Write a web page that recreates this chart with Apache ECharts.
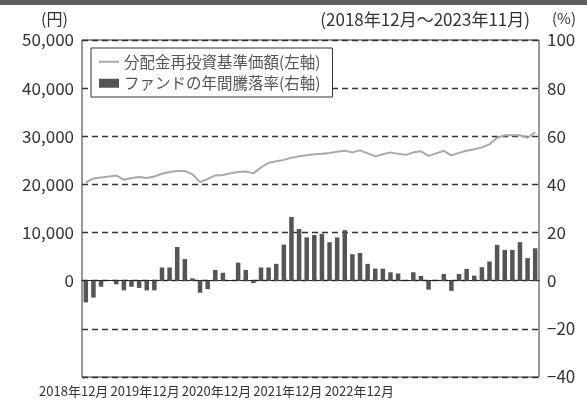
<!DOCTYPE html>
<html>
<head>
<meta charset="utf-8">
<script src="https://cdn.jsdelivr.net/npm/echarts@6/dist/echarts.min.js"></script>
<style>
  html, body { margin: 0; padding: 0; background: #fff; }
  #chart { width: 587px; height: 403px; }
</style>
</head>
<body>
<div id="chart"></div>
<script>
// 2018年12月 ～ 2023年11月 (月次)
var months = [];
for (var y = 2018, m = 12, k = 0; k < 60; k++) {
  months.push(y + '年' + m + '月');
  m++; if (m > 12) { m = 1; y++; }
}

// 分配金再投資基準価額 (円, 左軸)
var navValues = [
  20400, 21250, 21450, 21650, 21870, 20970, 21350, 21520, 21350, 21650,
  22230, 22600, 22800, 22800, 22100, 20480, 21150, 21870, 21980, 22300,
  22600, 22700, 22300, 23540, 24480, 24800, 25100, 25560, 25830, 26040,
  26250, 26350, 26520, 26770, 26980, 26660, 27080, 26460, 25830, 26250,
  26660, 26350, 26140, 26660, 26870, 25940, 26460, 26980, 26040, 26560,
  26980, 27290, 27700, 28330, 29690, 30200, 30200, 30200, 29690, 30830
];

// ファンドの年間騰落率 (%, 右軸)
var yearlyReturn = [
  -9, -7, -2.5, 0, -1.5, -4, -2.5, -3, -4, -4,
  5.5, 5.5, 14, 9, 1, -5, -3.5, 4.5, 3.3, 0,
  7.5, 4.5, -1, 5.5, 5.5, 7, 15, 26.5, 21.5, 18,
  19, 19.5, 16, 18, 21, 11, 11.5, 7, 5, 5,
  3.5, 3, 0, 3.5, 2, -3.7, 0, 2.8, -4.2, 2.8,
  4.9, 2.1, 5.6, 8, 14.9, 12.8, 12.8, 16, 9.4, 13.5
];

var yearLabels = ['2018年12月', '2019年12月', '2020年12月', '2021年12月', '2022年12月'];

var font = '"Noto Sans CJK JP", "Noto Sans", sans-serif';
var chart = echarts.init(document.getElementById('chart'));

var option = {
  animation: false,
  textStyle: { fontFamily: font },
  graphic: [
    { type: 'rect', shape: { x: 0, y: 0, width: 587, height: 5 }, style: { fill: '#5f5f5f' } }
  ],
  title: [
    { text: '(円)', left: 36, top: 6, textStyle: { fontSize: 16, fontWeight: 'normal', color: '#333', fontFamily: font } },
    { text: '(2018年12月～2023年11月)', right: 52, top: 6, textStyle: { fontSize: 17, fontWeight: 'normal', color: '#333', fontFamily: font } },
    { text: '(%)', left: 547, top: 6, textStyle: { fontSize: 15, fontWeight: 'normal', color: '#333', fontFamily: font } }
  ],
  legend: {
    orient: 'vertical',
    left: 91,
    top: 48,
    backgroundColor: '#fff',
    borderColor: '#333',
    borderWidth: 1,
    padding: [6, 12, 6, 8],
    itemGap: 6,
    itemWidth: 20,
    itemHeight: 9,
    textStyle: { fontSize: 15.5, color: '#555', fontFamily: font },
    data: [
      { name: '分配金再投資基準価額(左軸)', icon: 'path://M0,0 H20 V2 H0 Z' },
      { name: 'ファンドの年間騰落率(右軸)', icon: 'rect' }
    ]
  },
  grid: [
    { left: 82, right: 48, top: 40, bottom: 26, show: true, borderColor: '#333', borderWidth: 1, z: 0 },
    { left: 38, width: 357, top: 377, height: 1 }
  ],
  xAxis: [
    {
      type: 'category',
      gridIndex: 0,
      data: months,
      boundaryGap: true,
      axisLine: { onZero: true, lineStyle: { color: '#222', width: 1.2 } },
      axisTick: { show: false },
      axisLabel: { show: false }
    },
    {
      type: 'category',
      gridIndex: 1,
      data: yearLabels,
      axisLine: { show: false },
      axisTick: { show: false },
      axisLabel: { interval: 0, margin: 7, fontSize: 13, color: '#333', fontFamily: font }
    }
  ],
  yAxis: [
    {
      type: 'value',
      gridIndex: 0,
      min: -20000,
      max: 50000,
      interval: 10000,
      axisLine: { show: false },
      axisTick: { show: false },
      splitLine: { show: false },
      axisLabel: {
        fontSize: 17, color: '#333', margin: 8, fontFamily: font,
        formatter: function (v) { return v < 0 ? '' : v.toLocaleString('en-US'); }
      }
    },
    {
      type: 'value',
      gridIndex: 0,
      position: 'right',
      min: -40,
      max: 100,
      interval: 20,
      axisLine: { show: false },
      axisTick: { show: false },
      splitLine: { show: true, lineStyle: { color: '#333', type: [6, 4], width: 1.3 } },
      axisLabel: {
        fontSize: 17, color: '#333', margin: 8, fontFamily: font,
        formatter: function (v) { return String(v).replace('-', '−'); }
      }
    },
    { type: 'value', gridIndex: 1, show: false }
  ],
  series: [
    {
      name: 'ファンドの年間騰落率(右軸)',
      type: 'bar',
      xAxisIndex: 0,
      yAxisIndex: 1,
      barWidth: 4.5,
      itemStyle: { color: '#555' },
      data: yearlyReturn
    },
    {
      name: '分配金再投資基準価額(左軸)',
      type: 'line',
      xAxisIndex: 0,
      yAxisIndex: 0,
      symbol: 'none',
      lineStyle: { color: '#a9a9a9', width: 2 },
      itemStyle: { color: '#a9a9a9' },
      data: navValues
    }
  ]
};

chart.setOption(option);
</script>
</body>
</html>
